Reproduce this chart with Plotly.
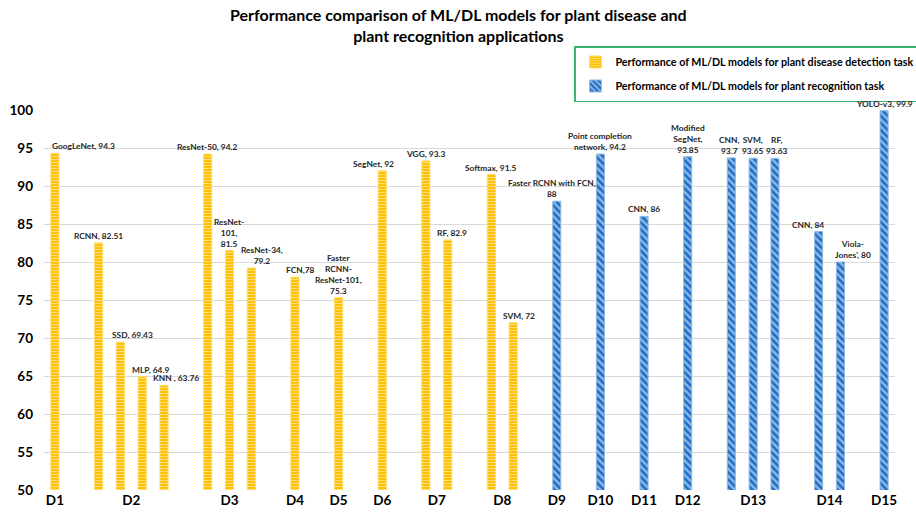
import plotly.graph_objects as go

# ---------------- data ----------------
groups = ["D1", "D2", "D2", "D2", "D2", "D3", "D3", "D3", "D4", "D5", "D6", "D7", "D7",
          "D8", "D8", "D9", "D10", "D11", "D12", "D13", "D13", "D13", "D14", "D14", "D15"]
models = ["GoogLeNet", "RCNN", "SSD", "MLP", "KNN ", "ResNet-50", "ResNet-101", "ResNet-34",
          "FCN", "Faster RCNN-ResNet-101", "SegNet", "VGG", "RF", "Softmax", "SVM",
          "Faster RCNN with FCN", "Point completion network", "CNN", "Modified SegNet",
          "CNN", "SVM", "RF", "CNN", "Viola-Jones'", "YOLO-v3"]
values = [94.3, 82.51, 69.43, 64.9, 63.76, 94.2, 81.5, 79.2, 78, 75.3, 92, 93.3, 82.9,
          91.5, 72, 88, 94.2, 86, 93.85, 93.7, 93.65, 93.63, 84, 80, 99.9]
tasks = ["disease"] * 15 + ["recognition"] * 10
series_names = {
    "disease": "Performance of ML/DL models for plant disease detection task",
    "recognition": "Performance of ML/DL models for plant recognition task",
}
title_text = "Performance comparison of ML/DL models for plant disease and<br>plant recognition applications"

# label texts (wrapped as in the reference)
labels = [f"{m}, {v:g}" for m, v in zip(models, values)]
wrapped = {
    6: "ResNet-<br>101,<br>{v}", 7: "ResNet-34,<br>{v}", 8: "FCN,{v}",
    9: "Faster<br>RCNN-<br>ResNet-101,<br>{v}", 15: "Faster RCNN with FCN,<br>{v}",
    16: "Point completion<br>network, {v}", 18: "Modified<br>SegNet,<br>{v}",
    19: "CNN,<br>{v}", 20: "SVM,<br>{v}", 21: "RF,<br>{v}", 23: "Viola-<br>Jones', {v}",
}
for i, t in wrapped.items():
    labels[i] = t.format(v=f"{values[i]:g}")

# ---------------- styles ----------------
label_xshift = {0: 29, 2: 12, 3: 8, 4: 12, 7: 11, 8: 5, 10: -9, 12: 4, 14: 6,
                15: -5, 19: -2, 21: 2, 22: -11, 23: 13}
styles = {
    "disease": dict(base="#FFC000", fg="#FFFFFF", bg="#FFC000", line="#FFD966",
                    shape="-", size=3, solidity=0.34),
    "recognition": dict(base="#1A6DC4", fg="#FFFFFF", bg="#1A6DC4", line="#8DB9E4",
                        shape="\\", size=5, solidity=0.5),
}
FONT = "Lato"
L, R, T, B = 44, 21, 110, 24
W, H = 916, 514

# slot positions: consecutive within a group, one empty slot between groups
pos = []
p = -1
prev = None
for g in groups:
    p += 1 if g == prev else (2 if prev is not None else 1)
    pos.append(p)
    prev = g
group_order = list(dict.fromkeys(groups))
tickvals = [sum(pp for pp, g in zip(pos, groups) if g == gg) /
            sum(1 for g in groups if g == gg) for gg in group_order]

fig = go.Figure()
for k in ["disease", "recognition"]:
    idx = [i for i, t in enumerate(tasks) if t == k]
    s = styles[k]
    fig.add_trace(go.Bar(
        x=[pos[i] for i in idx], y=[values[i] for i in idx],
        base=0, width=0.37, name=series_names[k], legendgroup=k,
        marker=dict(color=s["base"], line=dict(color=s["line"], width=1),
                    pattern=dict(shape=s["shape"], fgcolor=s["fg"], bgcolor=s["bg"],
                                 size=s["size"], solidity=s["solidity"], fillmode="overlay")),
        hoverinfo="skip",
    ))

for i, (x, v, t) in enumerate(zip(pos, values, labels)):
    fig.add_annotation(x=x, y=v, text=t, showarrow=False, yanchor="bottom", yshift=0,
                       xshift=label_xshift.get(i, 0), align="center",
                       font=dict(family=FONT, size=8.4, color="#262626", weight="bold"))

pw, ph = W - L - R, H - T - B
fig.add_annotation(text=title_text, xref="paper", yref="paper",
                   x=(W / 2 - L) / pw, y=(H - B - 25) / ph,
                   xanchor="center", yanchor="middle", showarrow=False, align="center",
                   font=dict(family=FONT, size=16, color="#000000", weight="bold"))

fig.update_layout(
    width=W, height=H,
    margin=dict(l=L, r=R, t=T, b=B, autoexpand=False),
    paper_bgcolor="white", plot_bgcolor="white",
    barmode="overlay",
    showlegend=True,
    legend=dict(x=(574 - L) / pw, y=(H - B - 46) / ph, xanchor="left", yanchor="top",
                bordercolor="#3CB371", borderwidth=1.5, bgcolor="white",
                tracegroupgap=5, traceorder="grouped", itemwidth=30,
                font=dict(family=FONT, size=10.7, color="#000000", weight="bold")),
    xaxis=dict(range=[-0.5, pos[-1] + 0.5], tickvals=tickvals, ticktext=group_order,
               showgrid=False, zeroline=False, showline=False, ticks="",
               tickfont=dict(family=FONT, size=13.5, color="#000000", weight="bold")),
    yaxis=dict(range=[50, 100], dtick=5, showgrid=True, gridcolor="#D9D9D9", gridwidth=1,
               zeroline=False, showline=False, ticks="", ticklabelstandoff=10,
               tickfont=dict(family=FONT, size=13.5, color="#000000", weight="bold")),
)

fig.write_html("out.html", config={"displayModeBar": False},
               post_script="document.body.style.margin='0';document.body.style.overflow='hidden';")
